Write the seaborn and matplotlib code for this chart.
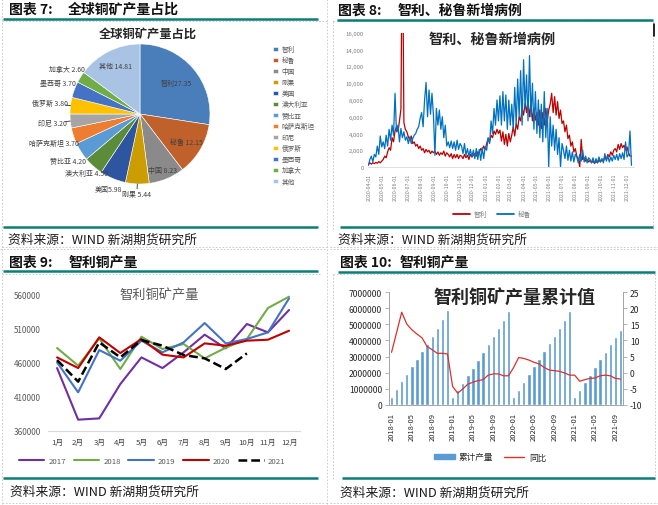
import numpy as np
import pandas as pd
import matplotlib
matplotlib.use('Agg')
import matplotlib.pyplot as plt
import seaborn as sns
from matplotlib.lines import Line2D
from matplotlib.patches import Patch

sns.set_style('white')
plt.rcParams['font.family'] = ['Noto Sans CJK SC', 'DejaVu Sans']
plt.rcParams['axes.unicode_minus'] = False

# ---------------- data ----------------
# Fig 7: global copper mine output share
pie_labels = ['智利', '秘鲁', '中国', '刚果', '美国', '澳大利亚', '赞比亚', '哈萨克斯坦',
              '印尼', '俄罗斯', '墨西哥', '加拿大', '其他']
pie_values = [27.35, 12.15, 8.23, 5.44, 5.98, 4.50, 4.20, 3.70, 3.20, 3.80, 3.70, 2.60, 14.81]

# Fig 8: daily new cases (sampled twice a week), start 2020-03-29
covid_start = '2020-03-29'
chile_cases = [300, 500,
               350, 500, 400, 550, 450, 650, 500, 700,
               900, 1300, 1100, 1800, 2300, 2000, 3500, 3000, 4300,
               4800, 4200, 5500, 6900, 30000, 5300, 4500, 4200, 3600,
               3200, 3700, 2800, 3000, 2500, 2700, 2200, 2500,
               2000, 2200, 1700, 2100, 1800, 2000, 1600, 1900, 1700,
               1900, 1500, 1800, 1400, 1700, 1500, 1900, 1300, 1700,
               1500, 1200, 1600, 1000, 1500, 1100, 1500, 1000, 1400,
               1300, 1000, 1500, 1100, 1400, 900, 1500, 1200,
               1400, 1600, 1300, 1800, 1700, 2200, 2000, 2500, 2100,
               2800, 3400, 3000, 3800, 3500, 4300, 3900, 4500, 4000,
               4400, 3100, 4200, 2700, 3900, 2500, 4000, 3000,
               3800, 4800, 3700, 5200, 4500, 6000, 5500, 7000, 6200,
               7600, 6500, 8000, 6000, 7500, 5500, 7000, 5600,
               6500, 5000, 6800, 4600, 6500, 5000, 7000, 5500, 6800,
               7500, 8800, 6500, 8400, 6200, 7800, 5800, 6800, 5200,
               5500, 4200, 5000, 3400, 3800, 2500, 3000, 1800, 2200,
               1300, 1000, 0, 3300, 900, 1100, 700, 900, 600,
               800, 500, 700, 450, 650, 500, 800, 600,
               900, 700, 1200, 900, 1500, 1200, 1800, 1400, 2000,
               2200, 1800, 2700, 2100, 2800, 2300, 2600, 2000, 2400,
               1700, 1300, 1300]
peru_cases = [200, 900,
              1300, 600, 1500, 1200, 2500, 1500, 3700, 2400,
              3000, 2200, 3800, 2500, 4500, 3200, 5000, 3800, 8800,
              4200, 5000, 3000, 4600, 3500, 4200, 3200, 3600, 2800,
              3600, 2800, 3400, 3800, 4000, 4500, 4800, 5800,
              6500, 4800, 8000, 10100, 6000, 9200, 6300, 8800, 6200,
              1400, 7000, 5000, 6800, 4500, 6000, 3500, 5000, 2500,
              3000, 2300, 3100, 2200, 3000, 2000, 3200, 2100, 2800,
              2500, 1600, 2800, 1400, 2200, 1300, 2100, 1200,
              2000, 1000, 2200, 900, 2100, 800, 2300, 1000, 2400,
              2000, 3500, 2800, 5500, 4000, 7000, 5000, 8000, 5500,
              8500, 5000, 9000, 5500, 8600, 4500, 8000, 5000,
              7500, 4500, 9500, 5000, 10500, 6000, 11500, 5000, 12800,
              7000, 11000, 5500, 13300, 6000, 10000, 4500, 9000,
              4000, 8000, 3500, 7500, 3000, 9000, 3500, 7000, 0,
              6000, 2500, 5000, 2000, 4500, 1500, 3500, 0, 2800,
              2000, 1000, 2500, 800, 2000, 700, 1800, 600, 1500,
              1200, 500, 1500, 700, 2000, 600, 1300, 500, 1100,
              900, 500, 1100, 400, 1000, 500, 1200, 600,
              1000, 500, 1600, 700, 1300, 600, 1200, 700, 1400,
              900, 1500, 800, 1600, 1000, 1700, 900, 3000, 1200,
              1500, 4300, 200]

# Fig 9: Chile copper output by month
months9 = ['1月', '2月', '3月', '4月', '5月', '6月', '7月', '8月', '9月', '10月', '11月', '12月']
prod_2017 = [452100, 376200, 378100, 428600, 467800, 452100, 475200, 501200, 481100, 516900, 504600, 537500]
prod_2018 = [481600, 455600, 495800, 450700, 498200, 480100, 487500, 466400, 482100, 494800, 540400, 557100]
prod_2019 = [460500, 416400, 478600, 462900, 492400, 475200, 489900, 518300, 488400, 494800, 504600, 554600]
prod_2020 = [467800, 452100, 497300, 474200, 494800, 471800, 467800, 488400, 485000, 492400, 493800, 507000]
prod_2021 = [463900, 432100, 489900, 467800, 493300, 485000, 471300, 466400, 450700, 473700]
years9 = ['2017', '2018', '2019', '2020', '2021']

# Fig 10: cumulative output and YoY
month10 = pd.period_range('2018-01', periods=46, freq='M').strftime('%Y-%m').tolist()
cum_output = [500000, 960000, 1450000, 1890000, 2390000, 2850000, 3340000, 3800000, 4300000, 4800000, 5340000, 5880000,
              460000, 890000, 1350000, 1830000, 2280000, 2760000, 3260000, 3780000, 4280000, 4760000, 5280000, 5820000,
              480000, 910000, 1410000, 1890000, 2390000, 2850000, 3320000, 3820000, 4260000, 4800000, 5300000, 5820000,
              480000, 890000, 1390000, 1850000, 2370000, 2830000, 3280000, 3760000, 4240000, 4670000]
yoy = [6.3, 12.5, 18.8, 15.1, 13.3, 12.0, 10.8, 8.1, 7.1, 6.0, 6.0, 5.8,
       -4.3, -6.4, -5.1, -3.6, -3.0, -2.5, -2.2, -0.8, -0.4, -0.4, -1.0, -1.0,
       1.6, 4.7, 4.4, 3.9, 3.2, 2.7, 1.6, 0.8, 0.6, 0.4, -0.1, -0.8,
       -0.8, -2.7, -2.2, -1.8, -1.7, -1.0, -0.8, -1.0, -1.8, -2.0]

# ---------------- styles ----------------
pie_colors = ['#4a7ebb', '#c0612b', '#8a8a8a', '#cc9d00', '#2e56a0', '#5b8c39', '#5b9bd5',
              '#ed7d31', '#a5a5a5', '#ffc000', '#4472c4', '#70ad47', '#a9c3e5']
label_r = [0.68, 0.78, 0.86, 1.14, 1.16, 1.14, 1.22, 1.30, 1.26, 1.29, 1.25, 1.23, 0.78]
year_colors = ['#7030a0', '#70ad47', '#4472c4', '#c00000', '#000000']
TEAL = '#0b7f76'
DASH = '#c4c4c4'

W, H = 658, 506
fig = plt.figure(figsize=(W / 100, H / 100), dpi=100)


def rect(x0, y0, x1, y1):
    return [x0 / W, 1 - y1 / H, (x1 - x0) / W, (y1 - y0) / H]


bg = fig.add_axes([0, 0, 1, 1], zorder=10)
bg.set_xlim(0, W)
bg.set_ylim(H, 0)
bg.axis('off')


def dline(xs, ys):
    bg.plot(xs, ys, color=DASH, lw=0.6, ls=(0, (2, 2)))


# dashed frames
dline([2, 2], [0, 506]); dline([327, 327], [0, 506])
dline([333, 333], [22, 230]); dline([653, 653], [22, 230])
dline([2, 327], [22, 22]); dline([333, 653], [22, 22])
dline([2, 327], [248, 248]); dline([330, 658], [248, 248])
dline([0, 327], [250, 250]); dline([330, 658], [250, 250])
dline([2, 320], [275, 275]); dline([333, 655], [275, 275])
dline([333, 333], [275, 480]); dline([655, 655], [275, 480])
dline([2, 327], [504, 504]); dline([330, 658], [504, 504])
bg.plot([654, 654], [25, 37], color='black', lw=1.2)

# teal rules
for x0, x1, y in [(3, 318, 20), (3, 318, 228), (337, 653, 21), (340, 653, 228),
                  (3, 318, 272), (3, 318, 479), (338, 655, 273), (342, 655, 479)]:
    bg.plot([x0, x1], [y, y], color=TEAL, lw=1.8, solid_capstyle='butt')

# headers and sources
hdr = dict(fontsize=10, fontweight='bold', va='center', ha='left', color='#111111')
for x, y, num, tx, title in [(9, 10, '7', 68, '全球铜矿产量占比'), (338, 11, '8', 398, '智利、秘鲁新增病例'),
                             (9, 263, '9', 69, '智利铜产量'), (340, 263, '10', 400, '智利铜产量')]:
    bg.text(x, y, f'图表 {num}:', **hdr)
    bg.text(tx, y, title, **hdr)
src = dict(fontsize=9.2, va='center', ha='left', color='#1a1a1a')
for x, y in [(8, 240), (338, 240), (10, 492), (340, 493)]:
    bg.text(x, y, '资料来源：WIND 新湖期货研究所', **src)

# ---------------- Fig 7 pie ----------------
ax7 = fig.add_axes(rect(70, 45, 210, 185))
ax7.set_facecolor('none')
wedges, _ = ax7.pie(pie_values, colors=pie_colors, startangle=90, counterclock=False,
                    wedgeprops=dict(edgecolor='white', linewidth=0.4))
ax7.set_xlim(-1, 1)
ax7.set_ylim(-1, 1)
ax7.set_aspect('equal')
for i, (w, lab, v, r) in enumerate(zip(wedges, pie_labels, pie_values, label_r)):
    ang = np.deg2rad((w.theta1 + w.theta2) / 2)
    c, s = np.cos(ang), np.sin(ang)
    sep = '' if lab in ('智利', '美国') else ' '
    ax7.text(r * c, r * s, f'{lab}{sep}{v:.2f}', ha='center', va='center', fontsize=5, color='#404040')
    if lab in ('刚果', '印尼', '俄罗斯'):
        ax7.plot([c, 1.07 * c], [s, 1.07 * s], color='black', lw=0.5, clip_on=False)
bg.text(148, 34, '全球铜矿产量占比', fontsize=8.8, fontweight='bold', ha='center', va='center')
ax7.legend(wedges, pie_labels, loc='upper left', bbox_to_anchor=(270 / W, 1 - 43 / H),
           bbox_transform=fig.transFigure, frameon=False, fontsize=4.8, handlelength=0.75,
           handleheight=0.75, handletextpad=0.5, labelspacing=0.45, borderpad=0, labelcolor='#595959')

# ---------------- Fig 8 covid ----------------
ax8 = fig.add_axes(rect(368, 34, 634, 168))
ax8.set_facecolor('none')
dates = pd.date_range(covid_start, periods=len(chile_cases), freq='84h')
sns.lineplot(x=dates, y=chile_cases, color='#c00000', lw=0.9, ax=ax8)
sns.lineplot(x=dates, y=peru_cases, color='#0070c0', lw=0.9, ax=ax8)
ax8.set_ylim(0, 16000)
ax8.set_xlim(pd.Timestamp('2020-03-28'), pd.Timestamp('2021-12-18'))
ticks8 = pd.date_range('2020-04-01', '2021-12-01', freq='MS')
ax8.set_xticks(ticks8)
ax8.set_xticklabels([t.strftime('%Y-%m-%d') for t in ticks8], rotation=90, fontsize=3.8, color='#7f7f7f')
ax8.set_yticks(range(0, 16001, 2000))
ax8.set_yticklabels([f'{v:,}' for v in range(0, 16001, 2000)], fontsize=4.3, color='#7f7f7f')
for sp in ['left', 'top', 'right']:
    ax8.spines[sp].set_visible(False)
ax8.spines['bottom'].set_color('#d9d9d9')
ax8.spines['bottom'].set_linewidth(0.6)
ax8.tick_params(axis='y', length=0, pad=3)
ax8.tick_params(axis='x', length=2, width=0.5, color='#d9d9d9', pad=2)
ax8.set_xlabel('')
ax8.set_ylabel('')
bg.text(492, 40, '智利、秘鲁新增病例', fontsize=10.2, fontweight='bold', ha='center', va='center')
ax8.legend(handles=[Line2D([], [], color='#c00000', lw=1.3, label='智利'),
                    Line2D([], [], color='#0070c0', lw=1.3, label='秘鲁')],
           loc='center', bbox_to_anchor=(492 / W, 1 - 215 / H), bbox_transform=fig.transFigure,
           ncol=2, frameon=False, fontsize=4.8, handlelength=2.6, columnspacing=1.5,
           handletextpad=0.5, labelcolor='#7f7f7f')

# ---------------- Fig 9 monthly output ----------------
ax9 = fig.add_axes(rect(48, 295.7, 300, 431.7))
ax9.set_facecolor('none')
series9 = [prod_2017, prod_2018, prod_2019, prod_2020, prod_2021]
handles9 = []
for yr, vals, col in zip(years9, series9, year_colors):
    if yr == '2021':
        sns.lineplot(x=np.arange(len(vals)), y=vals, color=col, lw=1.8, ax=ax9, clip_on=False)
        ax9.lines[-1].set_dashes((3.5, 1.6))
        h = Line2D([], [], color=col, lw=1.8, dashes=(3.5, 1.6), label=yr)
    else:
        sns.lineplot(x=np.arange(len(vals)), y=vals, color=col, lw=1.5, ax=ax9, clip_on=False)
        h = Line2D([], [], color=col, lw=1.5, label=yr)
    handles9.append(h)
ax9.set_xlim(-0.43, 11.52)
ax9.set_ylim(360000, 560000)
ax9.set_xticks(range(12))
ax9.set_xticklabels(months9, fontsize=5.6, color='#404040')
ax9.set_yticks(range(360000, 560001, 50000))
ax9.set_yticklabels([str(v) for v in range(360000, 560001, 50000)], fontsize=5.8, color='#595959')
for sp in ['left', 'top', 'right']:
    ax9.spines[sp].set_visible(False)
ax9.spines['bottom'].set_color('#d9d9d9')
ax9.spines['bottom'].set_linewidth(0.8)
ax9.tick_params(axis='y', length=0, pad=5)
ax9.tick_params(axis='x', length=0, pad=5)
ax9.set_xlabel('')
ax9.set_ylabel('')
bg.text(159, 296, '智利铜矿产量', fontsize=9.5, color='#595959', ha='center', va='center')
ax9.legend(handles=handles9, loc='center', bbox_to_anchor=(152 / W, 1 - 462 / H),
           bbox_transform=fig.transFigure, ncol=5, frameon=False, fontsize=5.6,
           handlelength=3.3, handletextpad=0.5, columnspacing=1.0, labelcolor='#595959')

# ---------------- Fig 10 cumulative ----------------
ax10 = fig.add_axes(rect(389, 293.3, 623, 405.7))
ax10.set_facecolor('none')
sns.barplot(x=np.arange(len(cum_output)), y=cum_output, color='#5b9bd5', saturation=1,
            width=0.65, ax=ax10)
ax10.set_xlim(-0.5, len(cum_output) - 0.5)
ax10.set_ylim(0, 7000000)
ax10.set_yticks(range(0, 7000001, 1000000))
ax10.set_yticklabels([str(v) for v in range(0, 7000001, 1000000)], fontsize=6.2, color='#262626')
ax10.set_xticks(range(0, len(month10), 4))
ax10.set_xticklabels(month10[::4], rotation=90, fontsize=5.4, color='#262626')
ax10b = ax10.twinx()
ax10b.set_facecolor('none')
sns.lineplot(x=np.arange(len(yoy)), y=yoy, color='#d9312b', lw=0.9, ax=ax10b)
ax10b.set_ylim(-10, 25)
ax10b.set_yticks(range(-10, 26, 5))
ax10b.set_yticklabels([str(v) for v in range(-10, 26, 5)], fontsize=6.2, color='#262626')
ax10b.set_xlim(-0.5, len(cum_output) - 0.5)
for a in (ax10, ax10b):
    a.spines['top'].set_visible(False)
    for sp in ['left', 'right', 'bottom']:
        a.spines[sp].set_color('#a6a6a6')
        a.spines[sp].set_linewidth(0.7)
    a.set_xlabel('')
    a.set_ylabel('')
ax10.tick_params(axis='both', length=3, width=0.6, color='#a6a6a6', pad=2, direction='out')
ax10b.tick_params(axis='y', length=3, width=0.6, color='#a6a6a6', pad=2, direction='out')
ax10.tick_params(axis='y', left=True)
bg.text(514, 298, '智利铜矿产量累计值', fontsize=13, fontweight='bold', ha='center', va='center')
ax10b.legend(handles=[Patch(color='#5b9bd5', label='累计产量'),
                      Line2D([], [], color='#d9312b', lw=1.0, label='同比')],
             loc='center', bbox_to_anchor=(490 / W, 1 - 458 / H), bbox_transform=fig.transFigure,
             ncol=2, frameon=False, fontsize=6.2, handlelength=2.4, handleheight=0.6,
             handletextpad=0.5, columnspacing=1.2, labelcolor='#262626')

fig.savefig('out.png', dpi=100)
